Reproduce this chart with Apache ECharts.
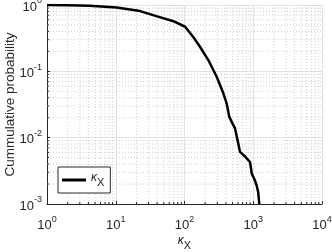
<!DOCTYPE html>
<html lang="en">
<head>
    <meta charset="UTF-8">
    <title>Cumulative probability of kappa_X</title>
    <script type="text/javascript" src="https://cdn.jsdelivr.net/npm/echarts@6/dist/echarts.min.js"></script>
    <style>
        html, body { margin: 0; padding: 0; background: #fff; }
    </style>
</head>
<body>
<div id="main" style="width: 332px;height:252px;"></div>
<script type="text/javascript">
    // values
    var kappaX = [1, 2, 4.2, 10.3, 22.5, 39, 69, 102, 134, 168, 222, 294, 367, 410, 448, 490, 543, 600, 642, 760, 896, 930, 949, 1050, 1122, 1180, 1224];
    var cumProb = [1, 0.995, 0.976, 0.92, 0.81, 0.68, 0.57, 0.47, 0.33, 0.235, 0.148, 0.083, 0.0466, 0.033, 0.0207, 0.017, 0.0138, 0.0085, 0.0061, 0.0052, 0.0043, 0.0034, 0.0029, 0.0023, 0.0019, 0.0015, 0.001];
    var xDecades = [1, 10, 100, 1000, 10000];
    var yDecades = [0.001, 0.01, 0.1, 1];
    var minorSteps = [2, 3, 4, 5, 6, 7, 8, 9];

    var fontFamily = '"Liberation Sans", Arial, sans-serif';
    var axisColor = '#262626';

    function minorValues(decades) {
        var out = [];
        for (var i = 0; i < decades.length - 1; i++) {
            for (var j = 0; j < minorSteps.length; j++) {
                out.push(decades[i] * minorSteps[j]);
            }
        }
        return out;
    }
    var xMinor = minorValues(xDecades);
    var yMinor = minorValues(yDecades);

    function powLabel(v) {
        var e = Math.round(Math.log(v) / Math.LN10);
        return '{b|10}{s|' + e + '}';
    }
    var powRich = {
        b: { fontSize: 13, color: axisColor, fontFamily: fontFamily, padding: [4, 0, 0, 0], verticalAlign: 'bottom' },
        s: { fontSize: 9, color: axisColor, fontFamily: fontFamily, verticalAlign: 'top', lineHeight: 10 }
    };
    var kapRich = {
        k: { fontSize: 12, color: axisColor, fontFamily: fontFamily, fontStyle: 'italic', verticalAlign: 'top' },
        x: { fontSize: 11, color: axisColor, fontFamily: fontFamily, padding: [5, 0, 0, 0], verticalAlign: 'bottom' }
    };

    // minor grid lines and minor ticks, placed through the axis scales
    var minorData = [];
    xMinor.forEach(function (v) { minorData.push([v, 1, 'x']); });
    yMinor.forEach(function (v) { minorData.push([1, v, 'y']); });

    function renderMinor(params, api) {
        var dir = minorData[params.dataIndex][2];
        var v = minorData[params.dataIndex][dir === 'x' ? 0 : 1];
        var a, b;
        if (dir === 'x') {
            a = api.coord([v, yDecades[0]]);
            b = api.coord([v, yDecades[yDecades.length - 1]]);
        } else {
            a = api.coord([xDecades[0], v]);
            b = api.coord([xDecades[xDecades.length - 1], v]);
        }
        var children = [{
            type: 'line',
            shape: { x1: a[0], y1: a[1], x2: b[0], y2: b[1] },
            style: { stroke: '#cfcfcf', lineWidth: 1, lineDash: [1, 2] }
        }];
        if (dir === 'x') {
            children.push({
                type: 'line',
                shape: { x1: a[0], y1: a[1], x2: a[0], y2: a[1] - 2 },
                style: { stroke: axisColor, lineWidth: 1 }
            });
        } else {
            children.push({
                type: 'line',
                shape: { x1: a[0], y1: a[1], x2: a[0] + 2, y2: a[1] },
                style: { stroke: axisColor, lineWidth: 1 }
            });
        }
        return { type: 'group', children: children };
    }

    var option = {
        animation: false,
        backgroundColor: '#fff',
        grid: {
            left: 47,
            right: 10,
            top: 5,
            bottom: 48,
            containLabel: false,
            outerBoundsMode: 'none'
        },
        legend: {
            left: 58,
            top: 167,
            orient: 'vertical',
            backgroundColor: '#fff',
            borderColor: axisColor,
            borderWidth: 1,
            borderRadius: 0,
            padding: [5, 6, 5, 4],
            itemWidth: 24,
            itemHeight: 12,
            itemGap: 4,
            formatter: function () { return '{k|κ}{x|X}'; },
            textStyle: { rich: kapRich },
            data: [{ name: 'kappaX', icon: 'path://M0,0 L24,0 L24,3 L0,3 Z', itemStyle: { color: '#000' } }]
        },
        xAxis: {
            type: 'log',
            logBase: 10,
            min: 1,
            max: 10000,
            interval: 1,
            name: '{k|κ}{x|X}',
            nameLocation: 'middle',
            nameGap: 31,
            nameMoveOverlap: false,
            nameTextStyle: { rich: kapRich },
            axisLine: { show: true, lineStyle: { color: axisColor, width: 1 } },
            axisTick: { show: true, inside: true, length: 3, lineStyle: { color: axisColor } },
            axisLabel: { margin: 11, formatter: powLabel, rich: powRich },
            splitLine: { show: true, lineStyle: { color: '#e3e3e3', width: 1 } }
        },
        yAxis: {
            type: 'log',
            logBase: 10,
            min: 0.001,
            max: 1,
            interval: 1,
            name: 'Cummulative probability',
            nameLocation: 'middle',
            nameGap: 30,
            nameMoveOverlap: false,
            nameTextStyle: { fontSize: 13.5, color: axisColor, fontFamily: fontFamily },
            axisLine: { show: true, lineStyle: { color: axisColor, width: 1 } },
            axisTick: { show: true, inside: true, length: 3, lineStyle: { color: axisColor } },
            axisLabel: { margin: 5, formatter: powLabel, rich: powRich },
            splitLine: { show: true, lineStyle: { color: '#e3e3e3', width: 1 } }
        },
        series: [
            {
                type: 'custom',
                silent: true,
                z: 1,
                renderItem: renderMinor,
                data: minorData.map(function (d) { return [d[0], d[1]]; }),
                clip: true
            },
            {
                name: 'kappaX',
                type: 'line',
                z: 5,
                symbol: 'none',
                smooth: false,
                lineStyle: { color: '#000', width: 2.5 },
                itemStyle: { color: '#000' },
                data: kappaX.map(function (x, i) { return [x, cumProb[i]]; })
            }
        ]
    };

    var myChart = echarts.init(document.getElementById('main'), null, { renderer: 'canvas' });
    myChart.setOption(option);
</script>
</body>
</html>
